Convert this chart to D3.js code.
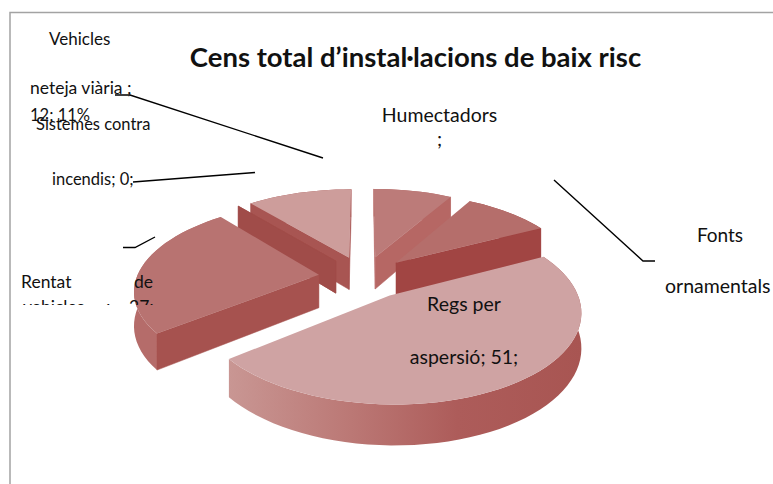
<!DOCTYPE html>
<html>
<head>
<meta charset="utf-8">
<script src="https://cdn.jsdelivr.net/npm/d3@7"></script>
<style>
  html, body { margin: 0; padding: 0; background: #fff; }
  svg { display: block; }
  text { font-family: Lato, "Open Sans", sans-serif; fill: #111; }
</style>
</head>
<body>
<svg id="chart" width="773" height="484"></svg>
<script>
var categories = ['Humectadors', 'Fonts ornamentals', 'Regs per aspersió',
  'Rentat de vehicles', 'Sistemes contra incendis', 'Vehicles neteja viària'];
var values = [9, 10, 51, 27, 0, 12];
var title = 'Cens total d’instal·lacions de baix risc';

// face colours per category, same order as categories
var topColors = ['#bc7b79', '#b56e6b', '#cfa3a3', '#b87371', '#a85350', '#cd9d9b'];
var sideColors = ['#b66764', '#a14543', '#b06260', '#a6524f', '#a04c49', '#a85552'];
var rimColors = ['#b66764', '#a14543', '#b06260', '#b56c6a', '#a04c49', '#a85552'];

// pie projection
var CX = 364, CY = 277, RX = 182, RY = 85;
var PERSPECTIVE = 0.16, DEPTH = 33, EXPLODE = 0.25;

var svg = d3.select('#chart');
var defs = svg.append('defs');
var line = d3.line();

/**
 * Projects a point of the pie plane to the screen.
 * @param {number} u
 * @param {number} v Positive towards the viewer.
 * @param {number} h Distance below the top face.
 * @return {!Array<number>}
 */
var project = function(u, v, h) {
  var w = 1 / (1 - PERSPECTIVE * v);
  return [CX + RX * u * w, CY + RY * v * w + DEPTH * h * w];
};

var pie = d3.pie().sort(null).value(function(d) { return d; });
var slices = pie(values);

// radial scale, just to keep the arc sampling even
var arcSteps = d3.scaleLinear().domain([0, Math.PI * 2]).range([0, 120]);

/**
 * Builds one exploded wedge in the pie plane.
 */
var wedge = function(slice) {
  var mid = (slice.startAngle + slice.endAngle) / 2;
  var ou = Math.sin(mid) * EXPLODE, ov = -Math.cos(mid) * EXPLODE;
  var n = Math.max(1, Math.ceil(arcSteps(slice.endAngle - slice.startAngle)));
  var rim = d3.range(n + 1).map(function(i) {
    var a = slice.startAngle + (slice.endAngle - slice.startAngle) * i / n;
    return [ou + Math.sin(a), ov - Math.cos(a)];
  });
  return {apex: [ou, ov], rim: rim};
};

var pts = function(list, h) {
  return list.map(function(p) { return project(p[0], p[1], h); });
};
var wall = function(a, b) {
  return pts([a, b], 0).concat(pts([b, a], 1));
};
var closedPath = function(points) {
  return line(points) + 'Z';
};

/**
 * A radial wall shows only when the top face lies above its upper edge.
 */
var wallVisible = function(a, b, inside) {
  var p = pts([a, b, inside], 0);
  var dx = p[1][0] - p[0][0], dy = p[1][1] - p[0][1];
  var cross = dx * (p[2][1] - p[0][1]) - dy * (p[2][0] - p[0][0]);
  return cross * (dx < 0 ? -1 : 1) < 0;
};

// Regs per aspersió has the shaded rim
var regsShade = defs.append('linearGradient')
  .attr('id', 'regsShade')
  .attr('gradientUnits', 'userSpaceOnUse')
  .attr('x1', 226).attr('x2', 582).attr('y1', 0).attr('y2', 0);
[[0, '#c99794'], [0.35, '#bb7875'], [0.65, '#ad5c5a'], [1, '#a85552']]
  .forEach(function(s) {
    regsShade.append('stop').attr('offset', s[0]).attr('stop-color', s[1]);
  });

var pieLayer = svg.append('g');

/**
 * Draws a wedge: rim, radial walls, then the top face.
 */
var drawWedge = function(index) {
  var shape = wedge(slices[index]);
  var first = shape.rim[0], last = shape.rim[shape.rim.length - 1];
  var inside = shape.rim[Math.floor(shape.rim.length / 2)];
  var filled = values[index] > 0;
  var g = pieLayer.append('g');
  var side = sideColors[index];
  if (filled) {
    var rimPts = pts(shape.rim, 0).concat(pts(shape.rim.slice().reverse(), 1));
    g.append('path').attr('d', closedPath(rimPts))
      .attr('fill', index == 2 ? 'url(#regsShade)' : rimColors[index]);
  }
  [first, last].forEach(function(end) {
    if (filled && !wallVisible(shape.apex, end, inside)) {
      return;
    }
    g.append('path').attr('d', closedPath(wall(shape.apex, end)))
      .attr('fill', side).attr('stroke', side).attr('stroke-width', 0.5);
  });
  if (filled) {
    g.append('path').attr('d', closedPath(pts([shape.apex].concat(shape.rim), 0)))
      .attr('fill', topColors[index]);
  }
};

// painter's order, back to front
[5, 0, 4, 3, 1, 2].forEach(drawWedge);

// frame
svg.append('path')
  .attr('d', 'M10,484V12.5H773')
  .attr('fill', 'none')
  .attr('stroke', '#a3a3a3')
  .attr('stroke-width', 1.5);

// title
svg.append('text')
  .attr('x', 415.5).attr('y', 67)
  .attr('text-anchor', 'middle')
  .attr('font-size', 27.5)
  .attr('font-weight', 700)
  .attr('fill', '#000')
  .text(title);

// leader lines
var leaders = [
  [[115, 95], [130, 95], [323, 158]],
  [[133, 182], [255, 172.5]],
  [[123, 247.5], [135, 247.5], [155, 237]],
  [[554, 180], [643, 261], [655, 261]]
];
svg.append('g').selectAll('path')
  .data(leaders)
  .join('path')
  .attr('d', function(d) { return line(d); })
  .attr('fill', 'none')
  .attr('stroke', '#000')
  .attr('stroke-width', 1.4);

// the Rentat label box cuts off its second row
defs.append('clipPath').attr('id', 'rentatClip')
  .append('rect').attr('x', 0).attr('y', 268).attr('width', 200).attr('height', 37);

var labels = [
  {text: 'Vehicles', x: 49, y: 45, anchor: 'start', size: 17},
  {text: 'neteja viària ;', x: 30, y: 94, anchor: 'start', size: 17.5},
  {text: '12; 11%', x: 30, y: 121, anchor: 'start', size: 16.5},
  {text: 'Sistemes contra', x: 36, y: 130, anchor: 'start', size: 16.5},
  {text: 'incendis; 0;', x: 52, y: 185, anchor: 'start', size: 16.5},
  {text: 'Humectadors', x: 439.5, y: 122, anchor: 'middle', size: 19.5},
  {text: ';', x: 439.5, y: 146, anchor: 'middle', size: 19.5},
  {text: 'Fonts', x: 720, y: 242, anchor: 'middle', size: 19},
  {text: 'ornamentals', x: 665, y: 293, anchor: 'start', size: 19.5},
  {text: 'Regs per', x: 464, y: 311, anchor: 'middle', size: 19.5},
  {text: 'aspersió; 51;', x: 464, y: 364, anchor: 'middle', size: 19.5},
  {text: 'Rentat', x: 21, y: 288, anchor: 'start', size: 17.5},
  {text: 'de', x: 134, y: 288, anchor: 'start', size: 17.5},
  {text: 'vehicles', x: 23, y: 313, anchor: 'start', size: 17.5, clip: true},
  {text: ';', x: 106, y: 313, anchor: 'start', size: 17.5, clip: true},
  {text: '27;', x: 129, y: 313, anchor: 'start', size: 17.5, clip: true}
];
svg.append('g').selectAll('text')
  .data(labels)
  .join('text')
  .attr('x', function(d) { return d.x; })
  .attr('y', function(d) { return d.y; })
  .attr('text-anchor', function(d) { return d.anchor; })
  .attr('clip-path', function(d) { return d.clip ? 'url(#rentatClip)' : null; })
  .attr('font-size', function(d) { return d.size; })
  .text(function(d) { return d.text; });
</script>
</body>
</html>
